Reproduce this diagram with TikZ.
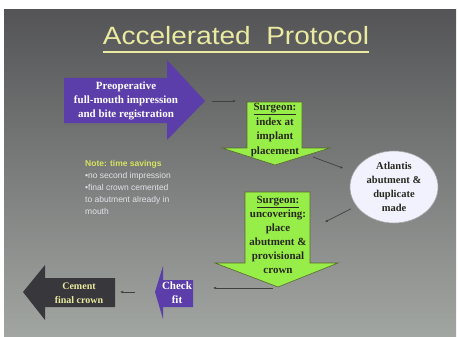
\documentclass[tikz,border=0pt]{standalone}
\usepackage{fontspec}
\setmainfont{Liberation Serif}
\newfontfamily\slidesans{Liberation Sans}
\usetikzlibrary{arrows.meta,shapes.geometric}

\definecolor{slidetop}{RGB}{84,84,86}
\definecolor{slidebot}{RGB}{162,166,162}
\definecolor{titleyellow}{RGB}{234,234,160}
\definecolor{purplearrow}{RGB}{92,62,170}
\definecolor{limegreen}{RGB}{152,238,72}
\definecolor{greenedge}{RGB}{88,104,44}
\definecolor{darkarrow}{RGB}{56,56,60}
\definecolor{notegreen}{RGB}{214,226,96}
\definecolor{notegray}{RGB}{226,226,232}
\definecolor{boxtext}{RGB}{40,40,30}

\begin{document}
\begin{tikzpicture}[x=1pt, y=-1pt,
    box text/.style={font=\bfseries\fontsize{11}{14}\selectfont, align=center, inner sep=0pt},
    link/.style={draw=black!75, line width=0.7pt, -{Latex[length=3pt,width=2.6pt]}}]

    % page and slide background
    \fill[white] (0,0) rectangle (458,337);
    \shade[top color=slidetop, bottom color=slidebot] (4,10) rectangle (456,337);

    % title with its underline
    \node[font=\slidesans\fontsize{25}{30}\selectfont, text=titleyellow, anchor=base, inner sep=0pt] (title) at (236,45)
        {\scalebox{1.12}[1]{Accelerated\ \ Protocol}};
    \draw[titleyellow, line width=1.1pt] ([yshift=-7pt]title.base west) -- ([yshift=-7pt]title.base east);

    % purple arrow: preoperative step
    \coordinate (pre-tip) at (205,101);
    \fill[purplearrow] (64,78) -- (167,78) -- (167,60) -- (pre-tip) -- (167,140) -- (167,123) -- (64,123) -- cycle;
    \node[box text, text=white] (pre) at (126,101) {Preoperative\\full-mouth impression\\and bite registration};

    % first green arrow: index at placement
    \coordinate (g1-w) at (247,101);
    \coordinate (g1-out) at (313,157);
    \filldraw[fill=limegreen, draw=greenedge, line width=0.6pt]
        (247,102) -- (302,102) -- (302,148) -- (330,148) -- (275,165) -- (222,148) -- (247,148) -- cycle;
    \node[box text, text=boxtext, font=\bfseries\fontsize{11}{14.5}\selectfont] (g1) at (275,130)
        {\underline{Surgeon:}\\index at\\implant\\placement};

    % Atlantis ellipse
    \node[ellipse, draw=gray!70, line width=0.6pt, fill=white!95!blue, minimum width=88pt, minimum height=72pt,
        box text, text=boxtext, font=\bfseries\fontsize{10.5}{14}\selectfont] (atl) at (394,187)
        {Atlantis\\abutment \&\\duplicate\\made};

    % second green arrow: uncovering
    \coordinate (g2-in) at (325,222);
    \coordinate (g2-tip) at (278,288);
    \filldraw[fill=limegreen, draw=greenedge, line width=0.6pt]
        (245,192) -- (310,192) -- (310,263) -- (338,263) -- (278,287) -- (215,263) -- (245,263) -- cycle;
    \node[box text, text=boxtext, font=\bfseries\fontsize{11}{14}\selectfont] (g2) at (278,235)
        {\underline{Surgeon:}\\uncovering:\\place\\abutment \&\\provisional\\crown};

    % check fit arrow
    \coordinate (chk-e) at (193,288);
    \coordinate (chk-tip) at (155,292);
    \fill[purplearrow] (193,280) -- (163,280) -- (163,266) -- (chk-tip) -- (163,319) -- (163,307) -- (193,307) -- cycle;
    \node[box text, text=white] (chk) at (177,293) {Check\\fit};

    % cement final crown arrow
    \coordinate (cem-e) at (115,292);
    \fill[darkarrow] (115,278) -- (45,278) -- (45,265) -- (23,292) -- (45,320) -- (45,307) -- (115,307) -- cycle;
    \node[box text, text=titleyellow, font=\bfseries\fontsize{10}{14}\selectfont] (cem) at (79,293) {Cement\\final crown};

    % note on time savings
    \node[anchor=north west, align=left, inner sep=0pt, text=notegray,
        font=\slidesans\fontsize{8.5}{12}\selectfont] (note) at (85,160)
        {{\color{notegreen}\bfseries Note: time savings}\\
         •no second impression\\
         •final crown cemented\\
         to abutment already in\\
         mouth};

    % connectors
    \draw[link, shorten <=7pt, shorten >=11pt] (pre-tip) -- (g1-w);
    \draw[link, shorten >=11pt] (g1-out) -- (atl);
    \draw[link, shorten <=6pt] (atl) -- (g2-in);
    \draw[link, shorten <=5pt, shorten >=20pt] (g2-tip) -- (chk-e);
    \draw[link, shorten <=20pt, shorten >=5pt] (chk-tip) -- (cem-e);
\end{tikzpicture}
\end{document}
